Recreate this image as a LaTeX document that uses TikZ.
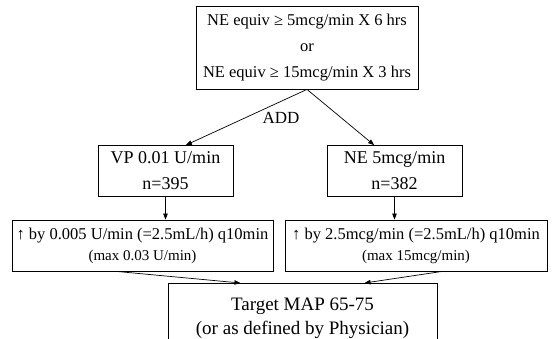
\documentclass[tikz,border=0pt]{standalone}
\usepackage{fontspec}
\setmainfont{Liberation Serif}
\usetikzlibrary{arrows.meta,calc}
\begin{document}
\begin{tikzpicture}[x=1pt,y=-1pt,
  box/.style={draw,line width=0.8pt,inner sep=0pt,align=center},
  conn/.style={line width=0.7pt,-{Triangle[width=4.5pt,length=6pt]}},
  big/.style={font=\fontsize{18}{26}\selectfont},
  mid/.style={font=\fontsize{16.5}{26}\selectfont},
  small/.style={font=\fontsize{16.5}{21}\selectfont},
  note/.style={font=\fontsize{15}{17}\selectfont}]
\useasboundingbox (0,0) rectangle (557,339);
\clip (0,0) rectangle (557,339);

% criteria for adding a second vasopressor
\node[box,mid,minimum width=222pt,minimum height=83pt] (crit) at (307,47.5)
  {NE equiv ≥ 5mcg/min X 6 hrs\\or\\NE equiv ≥ 15mcg/min X 3 hrs};
\node[font=\fontsize{17}{20}\selectfont] (add) at (281,118) {ADD};

% study arms
\node[box,big,minimum width=135pt,minimum height=51pt] (vp) at (165.5,171)
  {VP 0.01 U/min\\n=395};
\node[box,big,minimum width=135pt,minimum height=51pt] (ne) at (394.5,171)
  {NE 5mcg/min\\n=382};

% titration rules
\node[box,small,minimum width=261pt,minimum height=51pt] (vpt) at (142.5,245.5)
  {↑ by 0.005 U/min (=2.5mL/h) q10min\\{\fontsize{15}{17}\selectfont(max 0.03 U/min)}};
\node[box,small,minimum width=262pt,minimum height=51pt] (net) at (416,245.5)
  {↑ by 2.5mcg/min (=2.5mL/h) q10min\\{\fontsize{15}{17}\selectfont(max 15mcg/min)}};

% goal
\node[box,font=\fontsize{19}{24}\selectfont,minimum width=269pt,minimum height=70pt,anchor=north] (goal) at (302.5,283)
  {Target MAP 65-75\\(or as defined by Physician)};

\draw[conn] (crit.south) -- ($(vp.north west)!0.65!(vp.north east)$);
\draw[conn] (crit.south) -- ($(ne.north west)!0.35!(ne.north east)$);
\draw[conn] (vp.south) -- (vpt.north -| vp.south);
\draw[conn] (ne.south) -- (net.north -| ne.south);
\draw[conn] ($(vpt.south west)!0.4!(vpt.south east)$) -- ($(goal.north west)!0.27!(goal.north east)$);
\draw[conn] ($(net.south west)!0.6!(net.south east)$) -- ($(goal.north west)!0.73!(goal.north east)$);
\end{tikzpicture}
\end{document}
